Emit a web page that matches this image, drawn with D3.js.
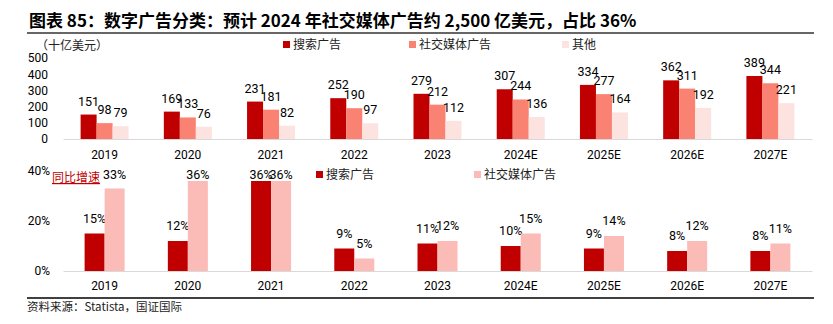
<!DOCTYPE html>
<html>
<head>
<meta charset="utf-8">
<script src="https://cdn.jsdelivr.net/npm/d3@7"></script>
<style>
  html, body { margin: 0; padding: 0; background: #fff; }
  svg { display: block; }
  .cjk { font-family: "Noto Sans CJK SC", sans-serif; }
  .num { font-family: Roboto, "Noto Sans", sans-serif; }
</style>
</head>
<body>
<svg id="chart" width="833" height="324"></svg>
<script>
// Digital advertising spend by category (US$ billions) and year-on-year growth
const years = ["2019", "2020", "2021", "2022", "2023", "2024E", "2025E", "2026E", "2027E"];
const searchAds = [151, 169, 231, 252, 279, 307, 334, 362, 389];
const socialAds = [98, 133, 181, 190, 212, 244, 277, 311, 344];
const otherAds = [79, 76, 82, 97, 112, 136, 164, 192, 221];
const searchGrowth = [15, 12, 36, 9, 11, 10, 9, 8, 8];
const socialGrowth = [33, 36, 36, 5, 12, 15, 14, 12, 11];
const spendTicks = [0, 100, 200, 300, 400, 500];
const growthTicks = [0, 20, 40];

const colors = {
  search: "#C00000",
  social: "#F98273",
  other: "#FDE3E0",
  socialGrowth: "#FBBBB6"
};

const svg = d3.select("#chart");

// Title and rule beneath it
svg.append("text").attr("class", "cjk")
  .attr("x", 29).attr("y", 27)
  .attr("font-size", 17).attr("font-weight", "bold").attr("fill", "#000")
  .text("图表 85：数字广告分类：预计 2024 年社交媒体广告约 2,500 亿美元，占比 36%");
svg.append("line").attr("x1", 27).attr("x2", 814).attr("y1", 33).attr("y2", 33)
  .attr("stroke", "#666").attr("stroke-width", 2);

// ---------- Top panel: spend ----------
const x = d3.scaleBand().domain(years).range([63, 812]);
const yTop = d3.scaleLinear().domain([0, 500]).range([139, 58]);
const topSeries = [
  { key: "search", values: searchAds },
  { key: "social", values: socialAds },
  { key: "other", values: otherAds }
];
const xTopInner = d3.scaleBand().domain(topSeries.map(s => s.key))
  .range([0, 48]);
const topOffset = (x.bandwidth() - 48) / 2;

svg.append("text").attr("class", "cjk").attr("x", 36).attr("y", 50)
  .attr("font-size", 12).attr("fill", "#222").text("（十亿美元）");

const yTopAxis = svg.append("g")
  .attr("transform", "translate(48,0)")
  .call(d3.axisLeft(yTop).tickValues(spendTicks).tickSize(0).tickPadding(0));
yTopAxis.select(".domain").remove();
yTopAxis.selectAll("text").attr("class", "num").attr("font-size", 12).attr("fill", "#000");

topSeries.forEach(s => {
  const g = svg.append("g");
  g.selectAll("rect").data(s.values).join("rect")
    .attr("x", (d, i) => x(years[i]) + topOffset + xTopInner(s.key))
    .attr("y", d => yTop(d))
    .attr("width", xTopInner.bandwidth())
    .attr("height", d => yTop(0) - yTop(d))
    .attr("fill", colors[s.key]);
  g.selectAll("text").data(s.values).join("text")
    .attr("class", "num")
    .attr("x", (d, i) => x(years[i]) + topOffset + xTopInner(s.key) + xTopInner.bandwidth() / 2)
    .attr("y", d => yTop(d) - 9)
    .attr("text-anchor", "middle").attr("font-size", 12.5).attr("fill", "#000")
    .text(d => d);
});

const xTopAxis = svg.append("g").attr("transform", `translate(0,${yTop(0)})`)
  .call(d3.axisBottom(x).tickSize(0).tickPadding(11));
xTopAxis.select(".domain").attr("stroke", "#d9d9d9");
xTopAxis.selectAll("text").attr("class", "num").attr("font-size", 12).attr("fill", "#000");

// Top legend
const topLegend = [
  { label: "搜索广告", color: colors.search, x: 283 },
  { label: "社交媒体广告", color: colors.social, x: 409 },
  { label: "其他", color: colors.other, x: 562 }
];
topLegend.forEach(l => {
  svg.append("rect").attr("x", l.x).attr("y", 41).attr("width", 7).attr("height", 7).attr("fill", l.color);
  svg.append("text").attr("class", "cjk").attr("x", l.x + 10).attr("y", 49)
    .attr("font-size", 12).attr("fill", "#222").text(l.label);
});

// ---------- Bottom panel: YoY growth ----------
const yBot = d3.scaleLinear().domain([0, 40]).range([271, 171]);
const botSeries = [
  { key: "search", values: searchGrowth, color: colors.search },
  { key: "socialGrowth", values: socialGrowth, color: colors.socialGrowth }
];
const xBotInner = d3.scaleBand().domain(botSeries.map(s => s.key)).range([0, 40]);
const botOffset = (x.bandwidth() - 40) / 2;
// Labels sit above their bars but never rise past the top of the panel
const labelCeiling = yBot(40) + 7.5;

const yBotAxis = svg.append("g")
  .attr("transform", "translate(50,0)")
  .call(d3.axisLeft(yBot).tickValues(growthTicks).tickSize(0).tickPadding(0)
    .tickFormat(d => d + "%"));
yBotAxis.select(".domain").remove();
yBotAxis.selectAll("text").attr("class", "num").attr("font-size", 12).attr("fill", "#000");

botSeries.forEach(s => {
  const g = svg.append("g");
  g.selectAll("rect").data(s.values).join("rect")
    .attr("x", (d, i) => x(years[i]) + botOffset + xBotInner(s.key))
    .attr("y", d => yBot(d))
    .attr("width", xBotInner.bandwidth())
    .attr("height", d => yBot(0) - yBot(d))
    .attr("fill", s.color);
  g.selectAll("text").data(s.values).join("text")
    .attr("class", "num")
    .attr("x", (d, i) => x(years[i]) + botOffset + xBotInner(s.key) + xBotInner.bandwidth() / 2)
    .attr("y", d => Math.max(yBot(d) - 11, labelCeiling))
    .attr("text-anchor", "middle").attr("font-size", 12.5).attr("fill", "#000")
    .text(d => d + "%");
});

const xBotAxis = svg.append("g").attr("transform", `translate(0,${yBot(0)})`)
  .call(d3.axisBottom(x).tickSize(0).tickPadding(10));
xBotAxis.select(".domain").attr("stroke", "#d9d9d9");
xBotAxis.selectAll("text").attr("class", "num").attr("font-size", 12).attr("fill", "#000");

// Bottom legend
const botLegend = [
  { label: "搜索广告", color: colors.search, x: 316 },
  { label: "社交媒体广告", color: colors.socialGrowth, x: 474 }
];
botLegend.forEach(l => {
  svg.append("rect").attr("x", l.x).attr("y", 171).attr("width", 7).attr("height", 7).attr("fill", l.color);
  svg.append("text").attr("class", "cjk").attr("x", l.x + 10).attr("y", 179)
    .attr("font-size", 12).attr("fill", "#222").text(l.label);
});

// Growth panel label
svg.append("text").attr("class", "cjk").attr("x", 52).attr("y", 182)
  .attr("font-size", 12).attr("fill", "#C00000")
  .attr("text-decoration", "underline").text("同比增速");

// Footer rule and source
svg.append("line").attr("x1", 27).attr("x2", 814).attr("y1", 298).attr("y2", 298)
  .attr("stroke", "#000").attr("stroke-width", 1.5);
svg.append("text").attr("class", "cjk").attr("x", 27).attr("y", 311)
  .attr("font-size", 11.5).attr("fill", "#222").text("资料来源：Statista，国证国际");
</script>
</body>
</html>
